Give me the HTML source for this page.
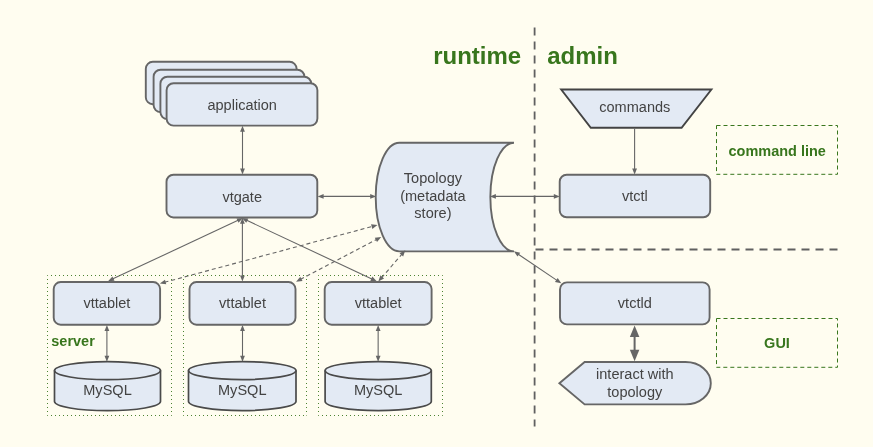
<!DOCTYPE html>
<html><head><meta charset="utf-8"><title>Vitess overview</title>
<style>
html,body{margin:0;padding:0;background:#fffdf0;overflow:hidden;}
svg{display:block;font-family:"Liberation Sans",Arial,sans-serif;will-change:transform;}
</style></head><body>
<svg width="873" height="447" viewBox="0 0 873 447">
<rect x="0" y="0" width="873" height="447" fill="#fffdf0"/>
<rect x="145.80" y="61.80" width="150.80" height="42.40" rx="7" ry="7" fill="#e3eaf4" stroke="#666666" stroke-width="1.9"/>
<rect x="153.60" y="69.70" width="150.80" height="42.40" rx="7" ry="7" fill="#e3eaf4" stroke="#666666" stroke-width="1.9"/>
<rect x="160.40" y="76.70" width="150.80" height="42.40" rx="7" ry="7" fill="#e3eaf4" stroke="#666666" stroke-width="1.9"/>
<rect x="166.60" y="83.20" width="150.80" height="42.40" rx="7" ry="7" fill="#e3eaf4" stroke="#666666" stroke-width="1.9"/>
<text transform="translate(242.20,109.60) scale(1,0.965)" font-size="14.55" font-weight="normal" fill="#434343" text-anchor="middle">application</text>
<rect x="166.50" y="174.70" width="150.80" height="42.80" rx="7" ry="7" fill="#e3eaf4" stroke="#666666" stroke-width="1.9"/>
<text transform="translate(242.20,201.70) scale(1,0.965)" font-size="14.55" font-weight="normal" fill="#434343" text-anchor="middle">vtgate</text>
<line x1="242.50" y1="130.60" x2="242.50" y2="169.70" stroke="#666666" stroke-width="1.1"/>
<polygon points="242.50,125.80 244.90,131.80 240.10,131.80" fill="#666666"/>
<polygon points="242.50,174.50 240.10,168.50 244.90,168.50" fill="#666666"/>
<line x1="322.40" y1="196.40" x2="371.40" y2="196.40" stroke="#666666" stroke-width="1.1"/>
<polygon points="317.60,196.40 323.60,194.00 323.60,198.80" fill="#666666"/>
<polygon points="376.20,196.40 370.20,198.80 370.20,194.00" fill="#666666"/>
<path d="M399.35,142.70 L514.00,142.70 A23.65,54.35 0 0 0 514.00,251.40 L399.35,251.40 A23.65,54.35 0 0 1 399.35,142.70 Z" fill="#e3eaf4" stroke="#666666" stroke-width="1.9"/>
<text transform="translate(432.90,182.60) scale(1,0.965)" font-size="14.55" font-weight="normal" fill="#434343" text-anchor="middle">Topology</text>
<text transform="translate(432.90,200.50) scale(1,0.965)" font-size="14.55" font-weight="normal" fill="#434343" text-anchor="middle">(metadata</text>
<text transform="translate(432.90,218.40) scale(1,0.965)" font-size="14.55" font-weight="normal" fill="#434343" text-anchor="middle">store)</text>
<line x1="494.70" y1="196.40" x2="555.00" y2="196.40" stroke="#666666" stroke-width="1.1"/>
<polygon points="489.90,196.40 495.90,194.00 495.90,198.80" fill="#666666"/>
<polygon points="559.80,196.40 553.80,198.80 553.80,194.00" fill="#666666"/>
<line x1="238.60" y1="220.08" x2="112.40" y2="279.12" stroke="#666666" stroke-width="1.1"/>
<polygon points="242.94,218.05 238.53,222.76 236.49,218.41" fill="#666666"/>
<polygon points="108.06,281.15 112.47,276.44 114.51,280.79" fill="#666666"/>
<line x1="242.40" y1="222.50" x2="242.40" y2="276.80" stroke="#666666" stroke-width="1.1"/>
<polygon points="242.40,217.70 244.80,223.70 240.00,223.70" fill="#666666"/>
<polygon points="242.40,281.60 240.00,275.60 244.80,275.60" fill="#666666"/>
<line x1="246.20" y1="220.08" x2="372.40" y2="279.22" stroke="#666666" stroke-width="1.1"/>
<polygon points="241.86,218.05 248.31,218.42 246.27,222.76" fill="#666666"/>
<polygon points="376.74,281.25 370.29,280.88 372.33,276.54" fill="#666666"/>
<line x1="164.46" y1="282.31" x2="372.84" y2="226.29" stroke="#666666" stroke-width="1.1" stroke-dasharray="4 3"/>
<polygon points="159.82,283.56 164.99,279.68 166.24,284.32" fill="#666666"/>
<polygon points="377.48,225.04 372.31,228.92 371.06,224.28" fill="#666666"/>
<line x1="300.32" y1="279.45" x2="376.98" y2="239.25" stroke="#666666" stroke-width="1.1" stroke-dasharray="4 3"/>
<polygon points="296.07,281.68 300.27,276.77 302.50,281.02" fill="#666666"/>
<polygon points="381.23,237.02 377.03,241.93 374.80,237.68" fill="#666666"/>
<line x1="381.45" y1="277.83" x2="402.15" y2="253.97" stroke="#666666" stroke-width="1.1" stroke-dasharray="4 3"/>
<polygon points="378.31,281.45 380.43,275.35 384.05,278.49" fill="#666666"/>
<polygon points="405.29,250.35 403.17,256.45 399.55,253.31" fill="#666666"/>
<line x1="47.5" y1="275.5" x2="171.5" y2="275.5" stroke="#38761d" stroke-width="1" stroke-dasharray="1 3" stroke-dashoffset="0.5" stroke-opacity="0.9"/>
<line x1="47.5" y1="415.5" x2="171.5" y2="415.5" stroke="#38761d" stroke-width="1" stroke-dasharray="1 3" stroke-dashoffset="0.5" stroke-opacity="0.9"/>
<line x1="47.5" y1="275.5" x2="47.5" y2="415.5" stroke="#38761d" stroke-width="1" stroke-dasharray="1 3" stroke-dashoffset="0.5" stroke-opacity="0.9"/>
<line x1="171.5" y1="275.5" x2="171.5" y2="415.5" stroke="#38761d" stroke-width="1" stroke-dasharray="1 3" stroke-dashoffset="0.5" stroke-opacity="0.9"/>
<line x1="183.5" y1="275.5" x2="306.5" y2="275.5" stroke="#38761d" stroke-width="1" stroke-dasharray="1 3" stroke-dashoffset="0.5" stroke-opacity="0.9"/>
<line x1="183.5" y1="415.5" x2="306.5" y2="415.5" stroke="#38761d" stroke-width="1" stroke-dasharray="1 3" stroke-dashoffset="0.5" stroke-opacity="0.9"/>
<line x1="183.5" y1="275.5" x2="183.5" y2="415.5" stroke="#38761d" stroke-width="1" stroke-dasharray="1 3" stroke-dashoffset="0.5" stroke-opacity="0.9"/>
<line x1="306.5" y1="275.5" x2="306.5" y2="415.5" stroke="#38761d" stroke-width="1" stroke-dasharray="1 3" stroke-dashoffset="0.5" stroke-opacity="0.9"/>
<line x1="318.5" y1="275.5" x2="442.5" y2="275.5" stroke="#38761d" stroke-width="1" stroke-dasharray="1 3" stroke-dashoffset="0.5" stroke-opacity="0.9"/>
<line x1="318.5" y1="415.5" x2="442.5" y2="415.5" stroke="#38761d" stroke-width="1" stroke-dasharray="1 3" stroke-dashoffset="0.5" stroke-opacity="0.9"/>
<line x1="318.5" y1="275.5" x2="318.5" y2="415.5" stroke="#38761d" stroke-width="1" stroke-dasharray="1 3" stroke-dashoffset="0.5" stroke-opacity="0.9"/>
<line x1="442.5" y1="275.5" x2="442.5" y2="415.5" stroke="#38761d" stroke-width="1" stroke-dasharray="1 3" stroke-dashoffset="0.5" stroke-opacity="0.9"/>
<rect x="53.70" y="282.00" width="106.40" height="42.70" rx="7" ry="7" fill="#e3eaf4" stroke="#666666" stroke-width="1.9"/>
<text transform="translate(106.90,307.50) scale(1,0.965)" font-size="14.55" font-weight="normal" fill="#434343" text-anchor="middle">vttablet</text>
<line x1="106.90" y1="329.80" x2="106.90" y2="357.00" stroke="#666666" stroke-width="1.1"/>
<polygon points="106.90,325.00 109.30,331.00 104.50,331.00" fill="#666666"/>
<polygon points="106.90,361.80 104.50,355.80 109.30,355.80" fill="#666666"/>
<path d="M54.50,370.60 A53.00,9.0 0 0 1 160.50,370.60 L160.50,401.60 A53.00,9.0 0 0 1 54.50,401.60 Z" fill="#e3eaf4" stroke="#4a4a4a" stroke-width="1.7"/>
<path d="M54.50,370.60 A53.00,9.0 0 0 0 160.50,370.60" fill="none" stroke="#4a4a4a" stroke-width="1.7"/>
<text transform="translate(107.50,395.10) scale(1,0.965)" font-size="14.55" font-weight="normal" fill="#434343" text-anchor="middle">MySQL</text>
<rect x="189.50" y="282.00" width="106.00" height="42.70" rx="7" ry="7" fill="#e3eaf4" stroke="#666666" stroke-width="1.9"/>
<text transform="translate(242.50,307.50) scale(1,0.965)" font-size="14.55" font-weight="normal" fill="#434343" text-anchor="middle">vttablet</text>
<line x1="242.50" y1="329.80" x2="242.50" y2="357.00" stroke="#666666" stroke-width="1.1"/>
<polygon points="242.50,325.00 244.90,331.00 240.10,331.00" fill="#666666"/>
<polygon points="242.50,361.80 240.10,355.80 244.90,355.80" fill="#666666"/>
<path d="M188.50,370.60 A53.75,9.0 0 0 1 296.00,370.60 L296.00,401.60 A53.75,9.0 0 0 1 188.50,401.60 Z" fill="#e3eaf4" stroke="#4a4a4a" stroke-width="1.7"/>
<path d="M188.50,370.60 A53.75,9.0 0 0 0 296.00,370.60" fill="none" stroke="#4a4a4a" stroke-width="1.7"/>
<text transform="translate(242.25,395.10) scale(1,0.965)" font-size="14.55" font-weight="normal" fill="#434343" text-anchor="middle">MySQL</text>
<rect x="324.70" y="282.00" width="106.90" height="42.70" rx="7" ry="7" fill="#e3eaf4" stroke="#666666" stroke-width="1.9"/>
<text transform="translate(378.15,307.50) scale(1,0.965)" font-size="14.55" font-weight="normal" fill="#434343" text-anchor="middle">vttablet</text>
<line x1="378.15" y1="329.80" x2="378.15" y2="357.00" stroke="#666666" stroke-width="1.1"/>
<polygon points="378.15,325.00 380.55,331.00 375.75,331.00" fill="#666666"/>
<polygon points="378.15,361.80 375.75,355.80 380.55,355.80" fill="#666666"/>
<path d="M325.10,370.60 A53.10,9.0 0 0 1 431.30,370.60 L431.30,401.60 A53.10,9.0 0 0 1 325.10,401.60 Z" fill="#e3eaf4" stroke="#4a4a4a" stroke-width="1.7"/>
<path d="M325.10,370.60 A53.10,9.0 0 0 0 431.30,370.60" fill="none" stroke="#4a4a4a" stroke-width="1.7"/>
<text transform="translate(378.20,395.10) scale(1,0.965)" font-size="14.55" font-weight="normal" fill="#434343" text-anchor="middle">MySQL</text>
<text transform="translate(51.30,345.70) scale(1,0.965)" font-size="14.5" font-weight="bold" fill="#38761d" text-anchor="start">server</text>
<text transform="translate(433.20,64.40) scale(1,0.965)" font-size="24" font-weight="bold" fill="#38761d" text-anchor="start">runtime</text>
<text transform="translate(547.20,64.40) scale(1,0.965)" font-size="24" font-weight="bold" fill="#38761d" text-anchor="start">admin</text>
<line x1="534.6" y1="27.5" x2="534.6" y2="426.5" stroke="#606060" stroke-width="1.8" stroke-dasharray="8 6"/>
<line x1="535.5" y1="249.5" x2="837.6" y2="249.5" stroke="#606060" stroke-width="1.8" stroke-dasharray="8 6"/>
<polygon points="561.2,89.5 711.4,89.5 681.6,127.8 590.8,127.8" fill="#e3eaf4" stroke="#434343" stroke-width="1.9" stroke-linejoin="miter"/>
<text transform="translate(634.80,112.10) scale(1,0.965)" font-size="14.55" font-weight="normal" fill="#434343" text-anchor="middle">commands</text>
<line x1="634.60" y1="128.60" x2="634.60" y2="169.70" stroke="#666666" stroke-width="1.1"/>
<polygon points="634.60,174.50 632.20,168.50 637.00,168.50" fill="#666666"/>
<rect x="559.70" y="174.70" width="150.50" height="42.60" rx="7" ry="7" fill="#e3eaf4" stroke="#666666" stroke-width="1.9"/>
<text transform="translate(634.80,201.30) scale(1,0.965)" font-size="14.55" font-weight="normal" fill="#434343" text-anchor="middle">vtctl</text>
<rect x="716.5" y="125.5" width="121" height="48.8" fill="none" stroke="#38761d" stroke-width="1" stroke-dasharray="4 3"/>
<text transform="translate(777.20,155.80) scale(1,0.965)" font-size="14.5" font-weight="bold" fill="#38761d" text-anchor="middle">command line</text>
<rect x="560.00" y="282.40" width="149.60" height="42.00" rx="7" ry="7" fill="#e3eaf4" stroke="#666666" stroke-width="1.9"/>
<text transform="translate(634.80,308.20) scale(1,0.965)" font-size="14.55" font-weight="normal" fill="#434343" text-anchor="middle">vtctld</text>
<line x1="517.88" y1="253.95" x2="557.32" y2="280.65" stroke="#666666" stroke-width="1.1"/>
<polygon points="513.90,251.26 520.22,252.64 517.53,256.61" fill="#666666"/>
<polygon points="561.30,283.34 554.98,281.96 557.67,277.99" fill="#666666"/>
<line x1="634.60" y1="334.60" x2="634.60" y2="352.00" stroke="#666666" stroke-width="2"/>
<polygon points="634.60,325.40 639.35,336.90 629.85,336.90" fill="#666666"/>
<polygon points="634.60,361.20 629.85,349.70 639.35,349.70" fill="#666666"/>
<path d="M559.40,383.20 L584.63,362.00 L685.57,362.00 A25.23,21.20 0 0 1 685.57,404.40 L584.63,404.40 Z" fill="#e3eaf4" stroke="#666666" stroke-width="1.9"/>
<text transform="translate(634.80,379.10) scale(1,0.965)" font-size="14.55" font-weight="normal" fill="#434343" text-anchor="middle">interact with</text>
<text transform="translate(634.80,397.40) scale(1,0.965)" font-size="14.55" font-weight="normal" fill="#434343" text-anchor="middle">topology</text>
<rect x="716.5" y="318.5" width="121" height="48.8" fill="none" stroke="#38761d" stroke-width="1" stroke-dasharray="4 3"/>
<text transform="translate(777.00,348.20) scale(1,0.965)" font-size="14.5" font-weight="bold" fill="#38761d" text-anchor="middle">GUI</text>
</svg>
</body></html>
